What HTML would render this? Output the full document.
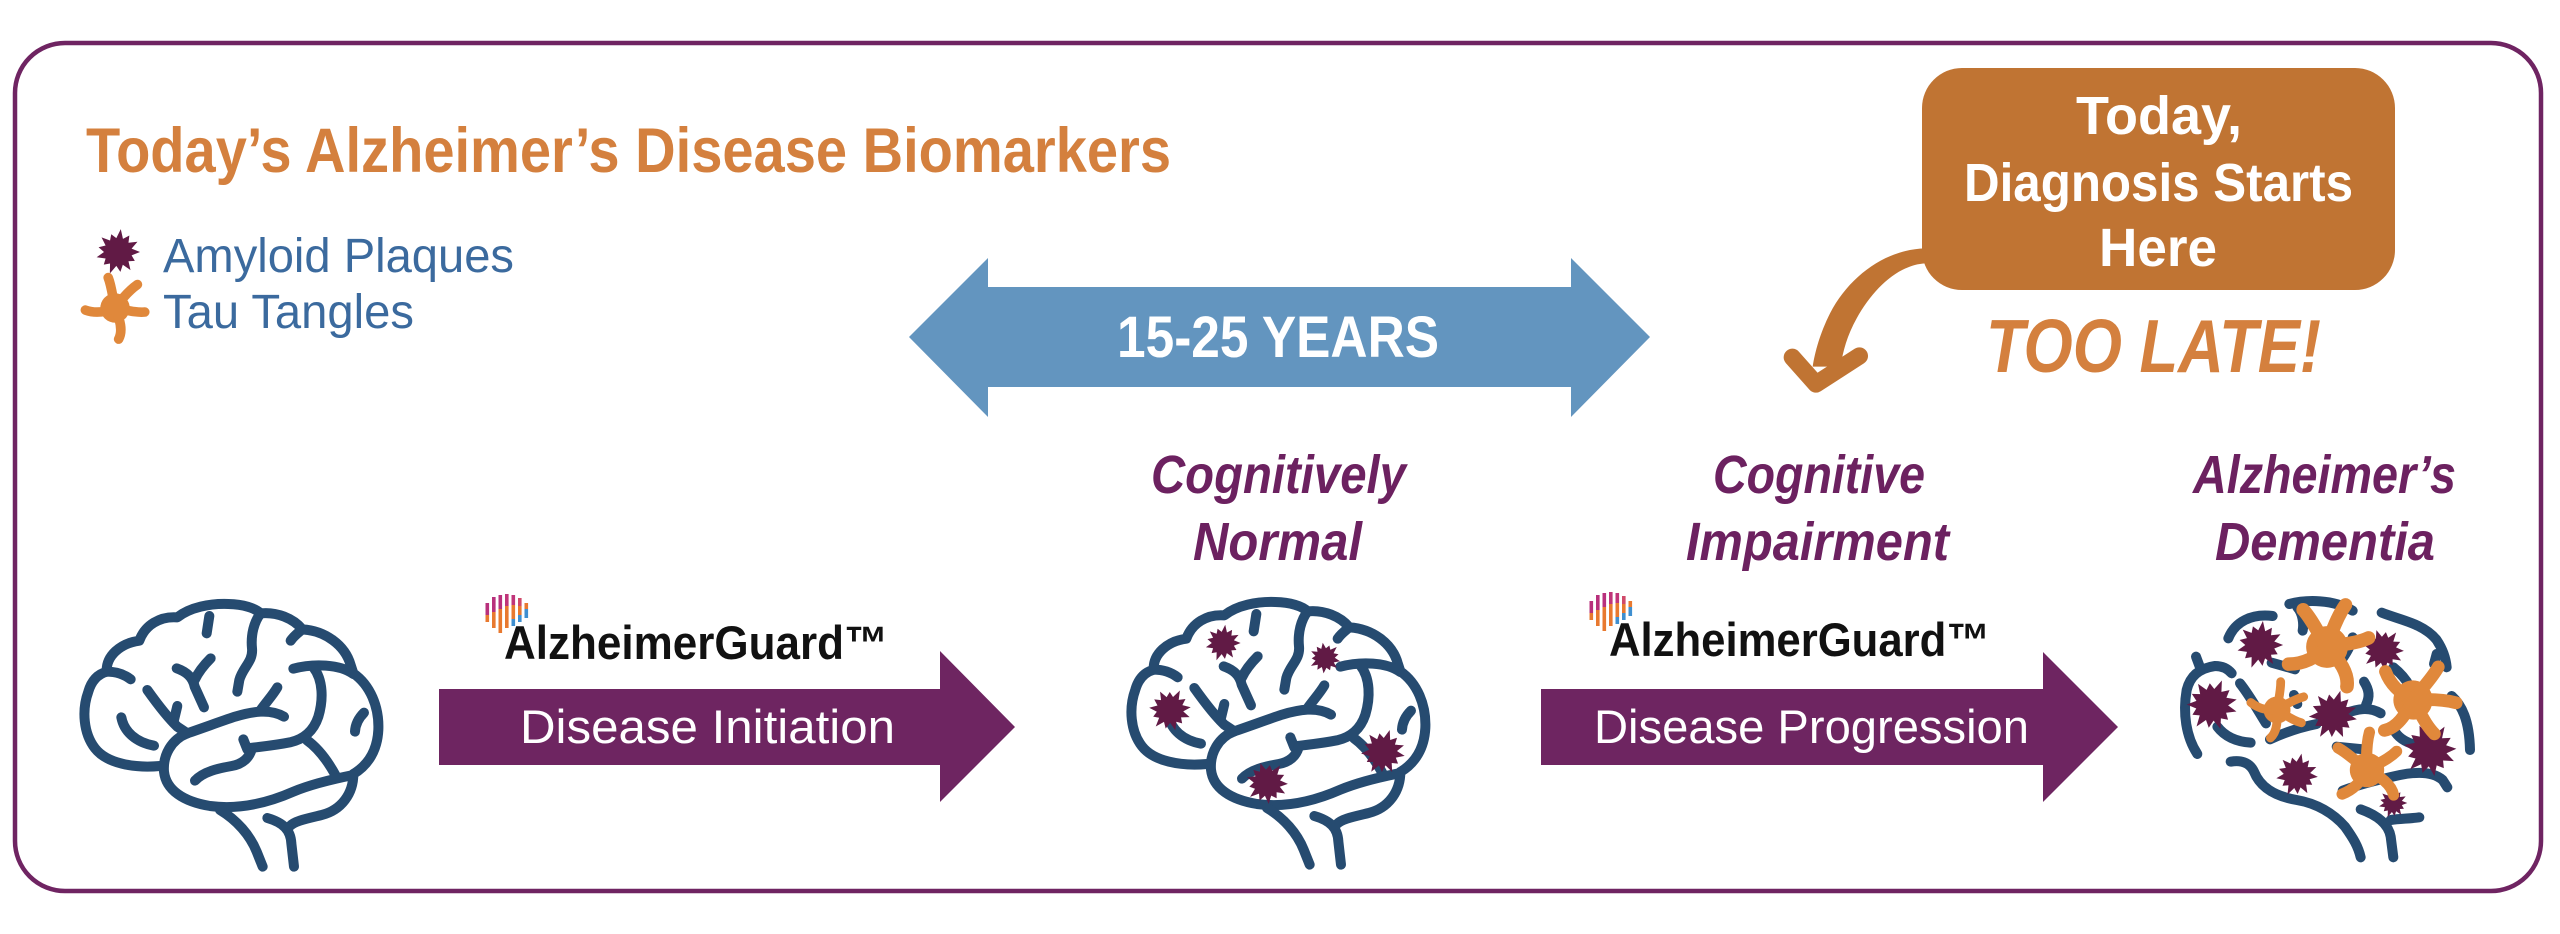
<!DOCTYPE html>
<html><head><meta charset="utf-8"><style>
html,body{margin:0;padding:0;background:#fff;}
svg{display:block;}
text{font-family:"Liberation Sans",sans-serif;}
</style></head><body>
<svg width="2560" height="934" viewBox="0 0 2560 934" xmlns="http://www.w3.org/2000/svg">
<defs>
<g id="brain" fill="none" stroke="#264b70" stroke-width="30" stroke-linecap="round" stroke-linejoin="round">
<path d="M300,558 C220,565 140,550 105,505 C70,460 65,390 85,335 C95,300 115,282 140,275 C138,228 180,190 238,182 C255,135 300,108 352,112 C390,82 450,70 505,72 C550,73 585,84 602,100 C650,95 700,115 727,148 C795,152 855,195 872,255 L880,280 C930,315 958,380 955,450 C952,510 925,555 880,582"/>
<path d="M140,275 C170,275 195,285 212,298"/>
<path d="M727,148 C712,160 700,170 692,182"/>
<path d="M700,266 C760,250 840,252 880,282"/>
<path d="M760,262 C790,300 790,360 775,410 C760,455 730,478 690,487 C640,497 600,500 565,505"/>
<path d="M550,478 L562,508"/>
<path d="M912,398 C895,415 886,435 885,455"/>
<path d="M740,480 C775,505 805,545 830,592"/>
<path d="M880,582 C880,640 845,690 785,705 C745,715 705,722 690,738"/>
<path d="M622,714 C670,728 692,750 694,790 L702,860"/>
<path d="M382,460 C335,478 308,525 312,575 C318,630 370,665 450,678 C540,690 625,668 700,635 C760,610 830,595 880,585"/>
<path d="M382,460 C440,440 480,425 525,410 C575,395 630,385 672,410"/>
<path d="M602,390 C620,365 640,343 652,322"/>
<path d="M405,602 C430,575 475,565 515,558 C550,552 568,532 575,508"/>
<path d="M480,690 C530,720 570,765 590,815 L608,860"/>
<path d="M602,100 C582,125 572,165 576,205 C580,245 548,262 538,300 L532,335"/>
<path d="M448,108 L440,160"/>
<path d="M350,265 C378,275 398,290 404,320 L432,382"/>
<path d="M404,300 C418,270 437,250 452,235"/>
<path d="M262,330 C292,372 322,412 352,440 L382,460"/>
<path d="M340,428 L352,378"/>
<path d="M184,412 C192,455 228,487 282,497"/>
</g>
<polygon id="pl" fill="#611a45" points="110,0 68,16.8 84.1,44.1 52.4,46.4 62.5,90.5 24.1,63.6 12,99.3 -8.4,69.5 -40.8,107.5 -39.8,57.6 -71.1,63 -62,32.5 -106.8,26.3 -70,0 -97.1,-23.9 -62,-32.5 -82.3,-73 -39.8,-57.6 -33.7,-88.8 -8.4,-69.5 13.9,-114.2 24.8,-65.5 56.8,-82.3 52.4,-46.4 97.4,-51.1 68,-16.8"/>
<g id="tg" fill="#e0883b" stroke="#e0883b" stroke-linecap="round" stroke-linejoin="round">
<circle r="24"/>
<path fill="none" stroke-width="16" d="M0,0 C-8,-20 -12,-35 -20,-48 M0,0 C10,-20 20,-35 30,-45 M0,0 C20,0 35,2 50,-2 M0,0 C12,18 20,35 15,50 M0,0 C-15,10 -30,15 -48,12"/>
</g>
<g id="logo">
<rect x="485.5" y="603" width="3.6" height="12" fill="#b8307c"/><rect x="485.5" y="615" width="3.6" height="7" fill="#e8792f"/>
<rect x="492" y="597" width="3.6" height="15" fill="#b8307c"/><rect x="492" y="612" width="3.6" height="16" fill="#e8792f"/>
<rect x="498.5" y="595" width="3.6" height="14" fill="#b8307c"/><rect x="498.5" y="609" width="3.6" height="24" fill="#e8792f"/>
<rect x="505" y="594" width="3.6" height="12" fill="#c0357a"/><rect x="505" y="606" width="3.6" height="22" fill="#e8792f"/>
<rect x="511.5" y="595" width="3.6" height="10" fill="#c0357a"/><rect x="511.5" y="605" width="3.6" height="14" fill="#e8792f"/><rect x="511.5" y="619" width="3.6" height="7" fill="#3f8fd0"/>
<rect x="518" y="598" width="3.6" height="8" fill="#d04a6a"/><rect x="518" y="606" width="3.6" height="9" fill="#e8792f"/><rect x="518" y="615" width="3.6" height="7" fill="#3f8fd0"/>
<rect x="524.5" y="603" width="3.6" height="6" fill="#e8792f"/><rect x="524.5" y="609" width="3.6" height="9" fill="#3f8fd0"/>
</g>
</defs>

<rect x="15" y="43" width="2526" height="848" rx="50" ry="50" fill="#fff" stroke="#6f2462" stroke-width="4.5"/>

<text x="86" y="172" font-size="63" font-weight="bold" fill="#d4803e" textLength="1085" lengthAdjust="spacingAndGlyphs">Today’s Alzheimer’s Disease Biomarkers</text>

<use href="#pl" transform="translate(118,252) scale(0.2)"/>
<text x="163" y="272" font-size="48" fill="#3b6a9e" textLength="351" lengthAdjust="spacingAndGlyphs">Amyloid Plaques</text>
<use href="#tg" transform="translate(115,308) scale(0.6) rotate(10)"/>
<text x="163" y="328" font-size="48" fill="#3b6a9e" textLength="251" lengthAdjust="spacingAndGlyphs">Tau Tangles</text>

<polygon fill="#6395bf" points="909,337 988,258 988,287 1571,287 1571,258 1650,337 1571,417 1571,387 988,387 988,417"/>
<text x="1117" y="357" font-size="58" font-weight="bold" fill="#fff" textLength="322" lengthAdjust="spacingAndGlyphs">15-25 YEARS</text>

<rect x="1922" y="68" width="473" height="222" rx="40" ry="40" fill="#c07433"/>
<text x="2076" y="134" font-size="54" font-weight="bold" fill="#fff" textLength="166" lengthAdjust="spacingAndGlyphs">Today,</text>
<text x="1964" y="201" font-size="54" font-weight="bold" fill="#fff" textLength="389" lengthAdjust="spacingAndGlyphs">Diagnosis Starts</text>
<text x="2099" y="266" font-size="54" font-weight="bold" fill="#fff" textLength="118" lengthAdjust="spacingAndGlyphs">Here</text>

<g transform="translate(1760,220) scale(0.33333)">
<path fill="#c07433" d="M495,85 C380,88 270,165 210,280 C180,340 165,395 158,440 L242,440 C248,395 262,345 290,295 C340,205 415,135 495,130 Z"/>
<path fill="none" stroke="#c07433" stroke-width="52" stroke-linecap="round" stroke-linejoin="round" d="M97,412 L168,492 L298,408"/>
</g>

<text x="1986" y="372" font-size="75" font-weight="bold" font-style="italic" fill="#d4803e" textLength="335" lengthAdjust="spacingAndGlyphs">TOO LATE!</text>

<g font-size="54" font-weight="bold" font-style="italic" fill="#6c2160">
<text x="1151" y="493" textLength="255" lengthAdjust="spacingAndGlyphs">Cognitively</text>
<text x="1193" y="560" textLength="169" lengthAdjust="spacingAndGlyphs">Normal</text>
<text x="1713" y="493" textLength="212" lengthAdjust="spacingAndGlyphs">Cognitive</text>
<text x="1686" y="560" textLength="263" lengthAdjust="spacingAndGlyphs">Impairment</text>
<text x="2193" y="493" textLength="263" lengthAdjust="spacingAndGlyphs">Alzheimer’s</text>
<text x="2215" y="560" textLength="220" lengthAdjust="spacingAndGlyphs">Dementia</text>
</g>

<use href="#logo"/>
<text x="504" y="659" font-size="47" font-weight="bold" fill="#111" textLength="384" lengthAdjust="spacingAndGlyphs">AlzheimerGuard™</text>
<use href="#logo" transform="translate(1104,-2)"/>
<text x="1609" y="656" font-size="47" font-weight="bold" fill="#111" textLength="381" lengthAdjust="spacingAndGlyphs">AlzheimerGuard™</text>

<polygon fill="#6e2561" points="439,689 940,689 940,651 1015,727 940,802 940,765 439,765"/>
<text x="520" y="743" font-size="47" fill="#fff" textLength="375" lengthAdjust="spacingAndGlyphs">Disease Initiation</text>
<polygon fill="#6e2561" points="1541,689 2043,689 2043,652 2118,727 2043,802 2043,765 1541,765"/>
<text x="1594" y="743" font-size="47" fill="#fff" textLength="435" lengthAdjust="spacingAndGlyphs">Disease Progression</text>

<use href="#brain" transform="translate(60,580) scale(0.33333)"/>

<use href="#brain" transform="translate(1107,578) scale(0.33333)"/>
<use href="#pl" transform="translate(1223,643) scale(0.16)"/>
<use href="#pl" transform="translate(1170,710) scale(0.19) rotate(20)"/>
<use href="#pl" transform="translate(1325,658) scale(0.14) rotate(40)"/>
<use href="#pl" transform="translate(1383,752) scale(0.2) rotate(10)"/>
<use href="#pl" transform="translate(1267,783) scale(0.19) rotate(30)"/>

<g transform="translate(2160,580) scale(0.33333)" fill="none" stroke="#264b70" stroke-width="30" stroke-linecap="round" stroke-linejoin="round">
<path d="M205,175 C225,125 275,100 338,108"/>
<path d="M388,72 C440,58 520,58 578,92"/>
<path d="M412,82 C428,100 432,130 428,152"/>
<path d="M665,98 C720,120 790,130 830,180 C850,210 858,240 860,262"/>
<path d="M822,252 L830,222"/>
<path d="M112,522 C78,470 68,400 80,330 C90,290 115,265 165,258 C190,258 205,268 215,280"/>
<path d="M108,230 L120,262"/>
<path d="M240,310 C268,345 290,385 318,430"/>
<path d="M172,440 C195,470 230,485 272,488"/>
<path d="M335,248 C360,255 385,262 405,268"/>
<path d="M402,345 L412,372"/>
<path d="M330,478 C380,455 430,440 470,432"/>
<path d="M555,400 C590,388 625,378 662,400"/>
<path d="M612,305 C628,330 630,350 618,375"/>
<path d="M700,262 C735,290 752,320 760,345"/>
<path d="M875,348 C905,375 928,420 930,510"/>
<path d="M702,450 C715,475 740,490 780,498"/>
<path d="M212,545 C240,540 268,545 282,575 C300,620 340,648 410,660 C470,670 520,700 555,740 C580,775 595,800 602,832"/>
<path d="M548,632 C600,612 660,598 720,585 C770,575 820,575 848,600 L862,622"/>
<path d="M602,688 C650,705 685,730 692,770 L700,832"/>
<path d="M692,720 C720,716 750,716 778,712"/>
<path d="M548,235 C565,210 575,190 578,172"/>
<path d="M530,500 L610,508"/>
</g>
<use href="#pl" transform="translate(2260,645) scale(0.21)"/>
<use href="#pl" transform="translate(2212,705) scale(0.23) rotate(15)"/>
<use href="#pl" transform="translate(2383,650) scale(0.19) rotate(30)"/>
<use href="#pl" transform="translate(2333,715) scale(0.22) rotate(10)"/>
<use href="#pl" transform="translate(2430,750) scale(0.24) rotate(25)"/>
<use href="#pl" transform="translate(2297,775) scale(0.19) rotate(5)"/>
<use href="#pl" transform="translate(2393,803) scale(0.13)"/>
<use href="#tg" transform="translate(2327,647) scale(0.85) rotate(-10)"/>
<use href="#tg" transform="translate(2277,710) scale(0.55) rotate(30)"/>
<use href="#tg" transform="translate(2413,700) scale(0.8) rotate(60)"/>
<use href="#tg" transform="translate(2367,770) scale(0.7) rotate(-30)"/>
</svg>
</body></html>
